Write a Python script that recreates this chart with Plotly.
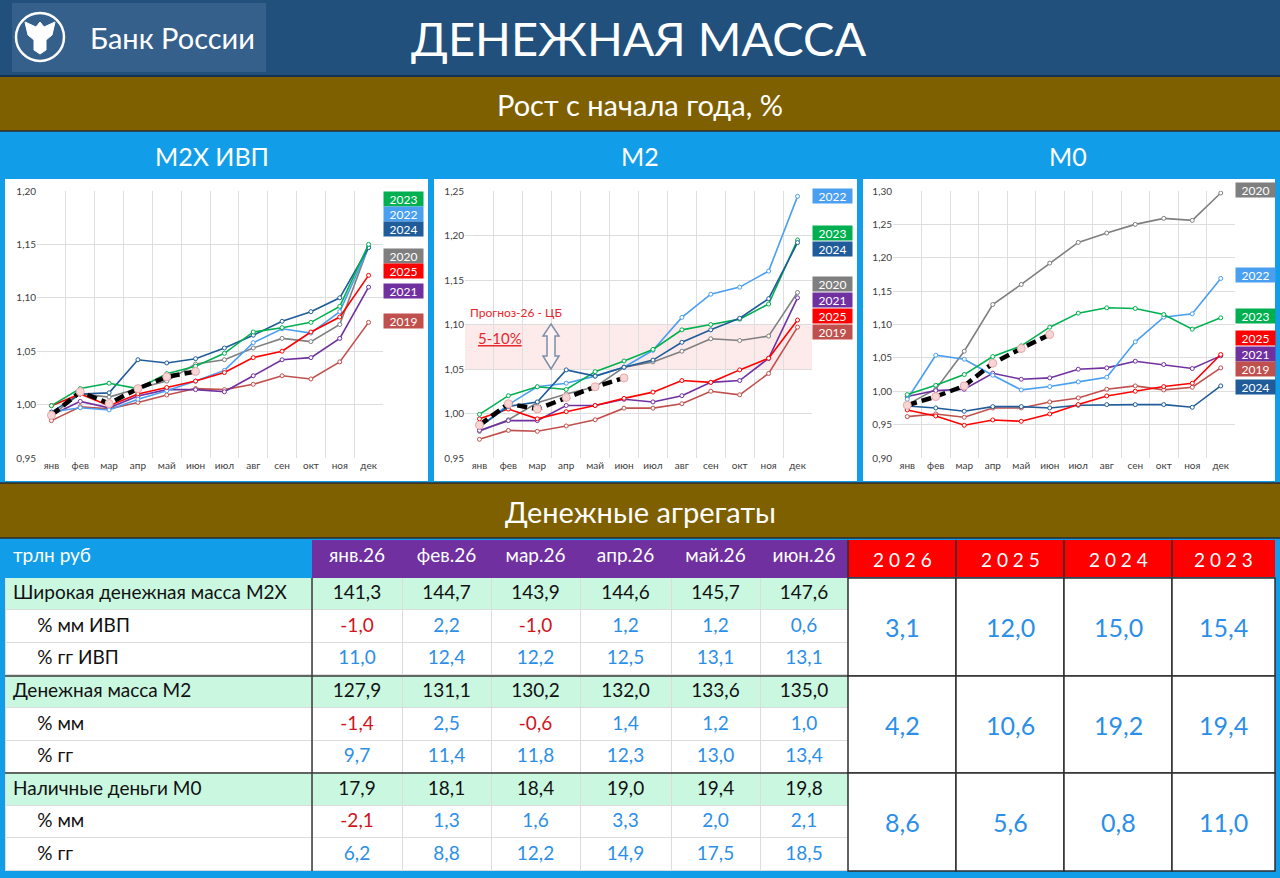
import plotly.graph_objects as go

W, H = 1280, 878
FONT = "Lato, 'Noto Sans', sans-serif"

months = ["янв", "фев", "мар", "апр", "май", "июн", "июл", "авг", "сен", "окт", "ноя", "дек"]

# --- рост с начала года (отношение к началу года) ---
m2x_2019 = [0.985, 0.998, 0.996, 1.002, 1.009, 1.015, 1.014, 1.019, 1.027, 1.024, 1.040, 1.077]
m2x_2020 = [0.990, 1.010, 1.007, 1.015, 1.022, 1.038, 1.042, 1.053, 1.062, 1.059, 1.075, 1.148]
m2x_2021 = [0.990, 1.003, 0.997, 1.008, 1.014, 1.014, 1.012, 1.027, 1.042, 1.044, 1.062, 1.110]
m2x_2022 = [0.993, 0.997, 0.995, 1.005, 1.013, 1.022, 1.032, 1.058, 1.071, 1.067, 1.087, 1.147]
m2x_2023 = [0.999, 1.015, 1.020, 1.015, 1.029, 1.036, 1.048, 1.068, 1.072, 1.077, 1.092, 1.150]
m2x_2024 = [0.993, 1.010, 1.011, 1.042, 1.039, 1.043, 1.053, 1.065, 1.078, 1.087, 1.100, 1.147]
m2x_2025 = [0.999, 1.010, 0.999, 1.010, 1.016, 1.022, 1.030, 1.044, 1.050, 1.068, 1.082, 1.121]
m2x_2026 = [0.990, 1.012, 1.001, 1.015, 1.026, 1.031]

m2_2019 = [0.971, 0.981, 0.980, 0.986, 0.993, 1.006, 1.006, 1.011, 1.025, 1.021, 1.045, 1.097]
m2_2020 = [0.980, 0.993, 1.012, 1.022, 1.030, 1.052, 1.058, 1.070, 1.084, 1.082, 1.087, 1.136]
m2_2021 = [0.981, 0.992, 0.992, 1.009, 1.009, 1.016, 1.013, 1.020, 1.035, 1.037, 1.062, 1.130]
m2_2022 = [0.985, 1.010, 1.030, 1.034, 1.042, 1.052, 1.071, 1.108, 1.134, 1.142, 1.160, 1.244]
m2_2023 = [0.999, 1.020, 1.030, 1.027, 1.047, 1.059, 1.072, 1.094, 1.100, 1.106, 1.123, 1.195]
m2_2024 = [0.985, 1.008, 1.013, 1.049, 1.042, 1.052, 1.060, 1.080, 1.094, 1.107, 1.129, 1.192]
m2_2025 = [0.994, 1.005, 0.994, 1.002, 1.009, 1.017, 1.024, 1.037, 1.035, 1.049, 1.062, 1.105]
m2_2026 = [0.987, 1.011, 1.005, 1.018, 1.030, 1.040]

m0_2019 = [0.962, 0.966, 0.961, 0.975, 0.975, 0.984, 0.990, 1.003, 1.008, 1.002, 1.006, 1.035]
m0_2020 = [0.980, 1.003, 1.060, 1.130, 1.160, 1.192, 1.223, 1.237, 1.250, 1.259, 1.256, 1.297]
m0_2021 = [0.992, 1.001, 1.003, 1.027, 1.018, 1.020, 1.033, 1.035, 1.045, 1.040, 1.034, 1.053]
m0_2022 = [0.988, 1.054, 1.048, 1.024, 1.002, 1.007, 1.014, 1.021, 1.074, 1.111, 1.116, 1.169]
m0_2023 = [0.995, 1.009, 1.025, 1.052, 1.068, 1.096, 1.117, 1.125, 1.124, 1.115, 1.093, 1.110]
m0_2024 = [0.978, 0.975, 0.970, 0.977, 0.977, 0.975, 0.979, 0.980, 0.980, 0.980, 0.976, 1.008]
m0_2025 = [0.972, 0.963, 0.949, 0.957, 0.955, 0.966, 0.980, 0.993, 1.000, 1.007, 1.012, 1.055]
m0_2026 = [0.979, 0.992, 1.008, 1.042, 1.064, 1.085]

# --- таблица ---
month_cols = ["янв.26", "фев.26", "мар.26", "апр.26", "май.26", "июн.26"]
row_labels = ["Широкая денежная масса M2X", "% мм ИВП", "% гг ИВП",
              "Денежная масса M2", "% мм", "% гг",
              "Наличные деньги M0", "% мм", "% гг"]
m2x_level = [141.3, 144.7, 143.9, 144.6, 145.7, 147.6]
m2x_mm = [-1.0, 2.2, -1.0, 1.2, 1.2, 0.6]
m2x_yy = [11.0, 12.4, 12.2, 12.5, 13.1, 13.1]
m2_level = [127.9, 131.1, 130.2, 132.0, 133.6, 135.0]
m2_mm = [-1.4, 2.5, -0.6, 1.4, 1.2, 1.0]
m2_yy = [9.7, 11.4, 11.8, 12.3, 13.0, 13.4]
m0_level = [17.9, 18.1, 18.4, 19.0, 19.4, 19.8]
m0_mm = [-2.1, 1.3, 1.6, 3.3, 2.0, 2.1]
m0_yy = [6.2, 8.8, 12.2, 14.9, 17.5, 18.5]

year_cols = ["2026", "2025", "2024", "2023"]
ytd_m2x = [3.1, 12.0, 15.0, 15.4]
ytd_m2 = [4.2, 10.6, 19.2, 19.4]
ytd_m0 = [8.6, 5.6, 0.8, 11.0]

colors = {"2019": "#c0504d", "2020": "#7f7f7f", "2021": "#7030a0", "2022": "#4a9ff0",
          "2023": "#00b050", "2024": "#1f5c99", "2025": "#ff0000"}

NAVY = "#21507c"
OLIVE = "#7f6000"
BLUE = "#129de8"
GREEN_ROW = "#c9f7e0"
VAL_BLUE = "#2b8fe8"
VAL_RED = "#d0141c"


def px(x):
    return x / W


def py(y):
    return 1 - y / H


def fmt(v):
    return f"{v:.1f}".replace(".", ",")


shapes = []
annotations = []


def rect(x0, y0, x1, y1, fill, line="rgba(0,0,0,0)", width=0, layer="below"):
    shapes.append(dict(type="rect", xref="paper", yref="paper",
                       x0=px(x0), x1=px(x1), y0=py(y1), y1=py(y0),
                       fillcolor=fill, line=dict(color=line, width=width), layer=layer))


def hline(x0, x1, y, color, width=1.5):
    shapes.append(dict(type="line", xref="paper", yref="paper", x0=px(x0), x1=px(x1),
                       y0=py(y), y1=py(y), line=dict(color=color, width=width), layer="above"))


def vline(x, y0, y1, color, width=1.5):
    shapes.append(dict(type="line", xref="paper", yref="paper", x0=px(x), x1=px(x),
                       y0=py(y0), y1=py(y1), line=dict(color=color, width=width), layer="above"))


def text(x, y, s, size, color="white", xanchor="center", **kw):
    annotations.append(dict(x=px(x), y=py(y), xref="paper", yref="paper", text=s,
                            showarrow=False, xanchor=xanchor, yanchor="middle",
                            font=dict(size=size, color=color, family=FONT), **kw))


# фон
rect(0, 0, W, H, BLUE)
rect(0, 0, W, 76, NAVY)
hline(0, W, 76, "#16324f", 2)
rect(0, 77, W, 131, OLIVE)
hline(0, W, 131, "#2b2b2b", 1.5)
rect(5, 179, 428, 481, "white")
rect(434, 179, 857, 481, "white")
rect(863, 179, 1275, 481, "white")
rect(0, 483, W, 538, OLIVE)
hline(0, W, 483, "#2b2b2b", 1.5)
hline(0, W, 538, "#2b2b2b", 1.5)

# логотип
rect(12, 3, 266, 72, "#35608c")
shapes.append(dict(type="circle", xref="paper", yref="paper",
                   x0=px(16), x1=px(64), y0=py(61), y1=py(13),
                   line=dict(color="white", width=2.5), layer="above"))
eagle = [(40, 22), (44, 27), (55, 22), (52, 35), (46, 40), (46, 50), (40, 54),
         (34, 50), (34, 40), (28, 35), (25, 22), (36, 27)]
shapes.append(dict(type="path", xref="paper", yref="paper",
                   path="M " + " L ".join(f"{px(a)},{py(b)}" for a, b in eagle) + " Z",
                   fillcolor="white", line=dict(color="white", width=1), layer="above"))
text(88, 38, "Банк России", 29, xanchor="left")

text(638, 38, "ДЕНЕЖНАЯ МАССА", 47)
text(640, 104, "Рост с начала года, %", 29)
text(212, 156, "M2X ИВП", 25)
text(640, 156, "M2", 25)
text(1068, 156, "M0", 25)
text(640, 511, "Денежные агрегаты", 29)

fig = go.Figure()

# --- графики ---
panels = [
    ("x", "y", 37, 383, [0.95, 1.20],
     {"2019": m2x_2019, "2020": m2x_2020, "2021": m2x_2021, "2022": m2x_2022,
      "2024": m2x_2024, "2025": m2x_2025, "2023": m2x_2023}, m2x_2026, 403,
     [("2023", 199), ("2022", 214), ("2024", 229), ("2020", 256), ("2025", 271),
      ("2021", 291), ("2019", 321)]),
    ("x2", "y2", 465, 812, [0.95, 1.25],
     {"2019": m2_2019, "2020": m2_2020, "2021": m2_2021, "2025": m2_2025,
      "2022": m2_2022, "2023": m2_2023, "2024": m2_2024}, m2_2026, 832,
     [("2022", 196), ("2023", 233), ("2024", 249), ("2020", 284), ("2021", 300),
      ("2025", 316), ("2019", 332)]),
    ("x3", "y3", 893, 1235, [0.90, 1.30],
     {"2019": m0_2019, "2020": m0_2020, "2021": m0_2021, "2022": m0_2022,
      "2023": m0_2023, "2024": m0_2024, "2025": m0_2025}, m0_2026, 1255,
     [("2020", 190), ("2022", 275), ("2023", 316), ("2025", 338), ("2021", 354),
      ("2019", 369), ("2024", 387)]),
]

xs = list(range(12))
for xa, ya, left, right, yr, series, cur, lab_x, labs in panels:
    for yr_name, vals in series.items():
        fig.add_trace(go.Scatter(x=xs, y=vals, xaxis=xa, yaxis=ya, mode="lines+markers",
                                 line=dict(color=colors[yr_name], width=1.6),
                                 marker=dict(size=4, color="white",
                                             line=dict(color=colors[yr_name], width=1)),
                                 showlegend=False, hoverinfo="skip"))
    fig.add_trace(go.Scatter(x=xs[:len(cur)], y=cur, xaxis=xa, yaxis=ya, mode="lines+markers",
                             line=dict(color="black", width=4.5, dash="10px,5px"),
                             marker=dict(size=8, color="#f9d6d6",
                                         line=dict(color="#e8a8a8", width=1)),
                             showlegend=False, hoverinfo="skip"))
    key = xa[1:]
    fig.layout["xaxis" + key] = dict(
        domain=[px(left), px(right)], anchor=ya, range=[-0.5, 11.5], automargin=False,
        tickvals=xs, ticktext=months, showgrid=False, zeroline=False, showline=False,
        ticks="", tickfont=dict(size=10, color="#404040", family=FONT),
        minor=dict(tickvals=[i - 0.5 for i in range(13)], showgrid=True,
                   gridcolor="#dedede", gridwidth=1))
    fig.layout["yaxis" + key] = dict(
        domain=[py(458), py(191)], anchor=xa, range=yr, dtick=0.05, tickformat=".2f",
        gridcolor="#dedede", zeroline=False, showline=False, ticks="", automargin=False,
        tickfont=dict(size=10, color="#404040", family=FONT))
    for name, yy in labs:
        annotations.append(dict(x=px(lab_x), y=py(yy), xref="paper", yref="paper",
                                xanchor="center", yanchor="middle",
                                text=name, showarrow=False, bgcolor=colors[name],
                                width=39, height=14, borderpad=0,
                                font=dict(size=12, color="white", family=FONT)))

# прогноз ЦБ на M2
shapes.append(dict(type="rect", xref="x2 domain", yref="y2", x0=0, x1=1, y0=1.05, y1=1.10,
                   fillcolor="rgba(250,190,190,0.3)", line=dict(width=0), layer="below"))
arrow = [(551, 324), (559, 336), (555, 336), (555, 356), (559, 356), (551, 369),
         (543, 356), (547, 356), (547, 336), (543, 336)]
shapes.append(dict(type="path", xref="paper", yref="paper",
                   path="M " + " L ".join(f"{px(a)},{py(b)}" for a, b in arrow) + " Z",
                   fillcolor="#fdf1f1", line=dict(color="#7f8fa8", width=1.5), layer="above"))
text(516, 312, "Прогноз-26 - ЦБ", 12, color="#e8262b")
text(500, 338, "<u>5-10%</u>", 15, color="#e8262b")

# --- таблица по месяцам ---
groups = [(m2x_level, m2x_mm, m2x_yy), (m2_level, m2_mm, m2_yy), (m0_level, m0_mm, m0_yy)]
indent = "\u00a0" * 5
label_col, label_fill = [], []
for i, lab in enumerate(row_labels):
    main = i % 3 == 0
    label_col.append(lab if main else indent + lab)
    label_fill.append(GREEN_ROW if main else "white")

cols, fills, fcols = [label_col], [label_fill], [["#111111"] * 9]
for j in range(6):
    vals, fl, fc = [], [], []
    for lev, mm, yy in groups:
        vals += [fmt(lev[j]), fmt(mm[j]), fmt(yy[j])]
        fl += [GREEN_ROW, "white", "white"]
        fc += ["#111111", VAL_RED if mm[j] < 0 else VAL_BLUE, VAL_RED if yy[j] < 0 else VAL_BLUE]
    cols.append(vals)
    fills.append(fl)
    fcols.append(fc)

fig.add_trace(go.Table(
    domain=dict(x=[px(5), px(848)], y=[py(872), py(540)]),
    columnwidth=[307, 90, 89, 89, 91, 89, 88],
    header=dict(values=["трлн руб"] + month_cols,
                fill_color=[BLUE] + ["#7030a0"] * 6,
                line=dict(color=[BLUE] + ["#7030a0"] * 6, width=1),
                align=["left"] + ["center"] * 6, height=37,
                font=dict(size=19, color="white", family=FONT)),
    cells=dict(values=cols, fill_color=fills,
               line=dict(color="#dcdcdc", width=1),
               align=["left"] + ["center"] * 6, height=32.6,
               font=dict(size=19, color=fcols, family=FONT))))
rect(0, 540, 5, 577, BLUE, layer="above")

# разделители групп
vline(312, 578, 871, "#3a3a3a", 1.5)
hline(5, 848, 676, "#3a3a3a", 1.5)
hline(5, 848, 773, "#3a3a3a", 1.5)

# --- таблица по годам ---
yx = [848, 956, 1064, 1172, 1275]
gy = [578, 676, 773, 871]
rect(848, 540, 1275, 577, "#ff0000", layer="above")
for k, name in enumerate(year_cols):
    text((yx[k] + yx[k + 1]) / 2, 559, " ".join(name), 19)
for g, ytd in enumerate([ytd_m2x, ytd_m2, ytd_m0]):
    for k, v in enumerate(ytd):
        rect(yx[k], gy[g], yx[k + 1], gy[g + 1], "white", "#2e2e2e", 1.5, layer="above")
        text((yx[k] + yx[k + 1]) / 2, (gy[g] + gy[g + 1]) / 2, fmt(v), 25, color=VAL_BLUE)
for x in yx[:-1]:
    vline(x, 540, 577, "#2e2e2e", 1.5)

fig.update_layout(width=W, height=H,
                  margin=dict(l=0, r=0, t=0, b=0, pad=0, autoexpand=False),
                  paper_bgcolor=BLUE, plot_bgcolor="white", separators=", ",
                  shapes=shapes, annotations=annotations, showlegend=False,
                  font=dict(family=FONT))

fig.write_html("out.html", config={"displayModeBar": False},
               post_script="document.body.style.margin='0';")
